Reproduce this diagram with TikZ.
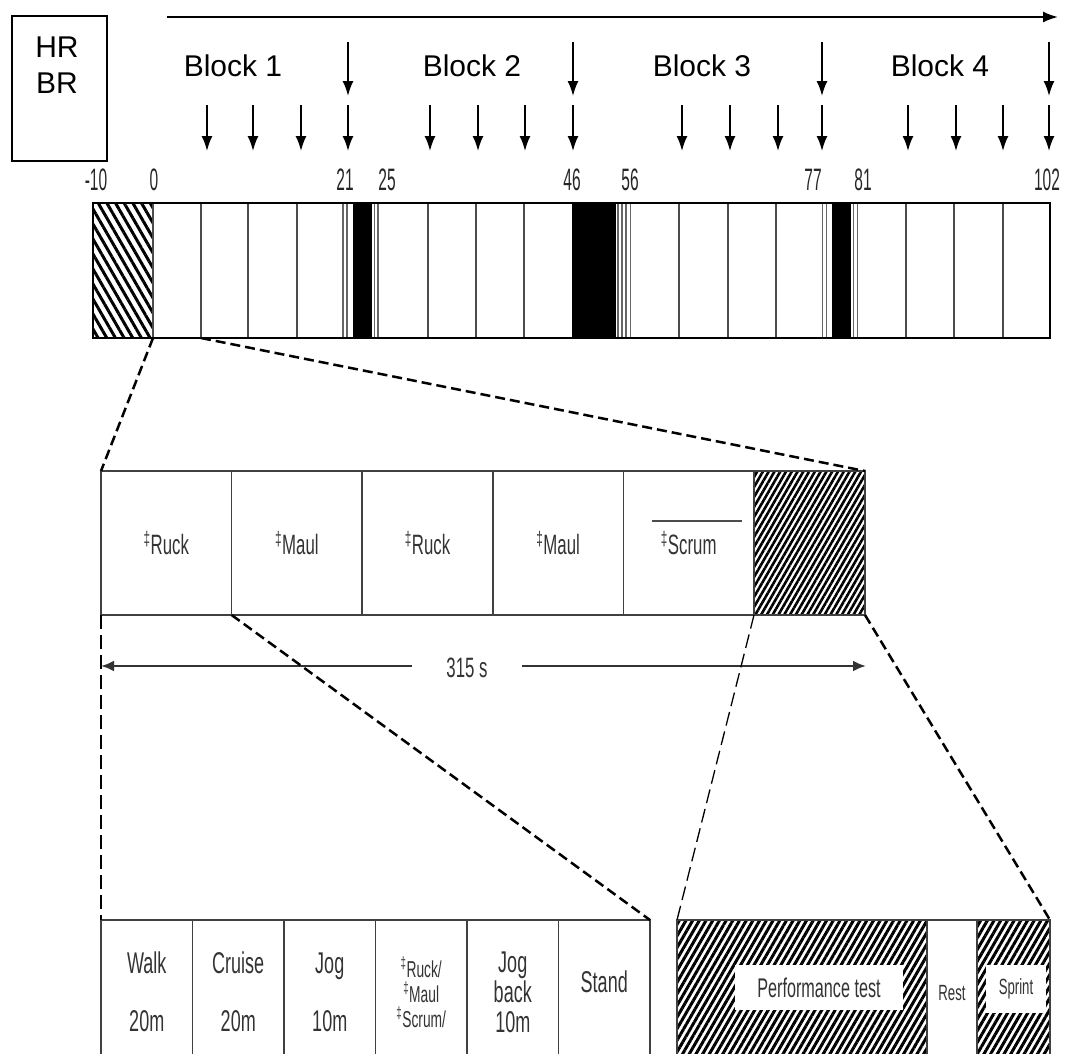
\documentclass[tikz,border=0pt]{standalone}
\usepackage{fontspec}
\setmainfont{Liberation Sans}
\newfontfamily\narrowfont[FakeStretch=0.6]{Liberation Sans}
\newfontfamily\numfont[FakeStretch=0.5]{Liberation Sans}
\usetikzlibrary{arrows.meta,patterns.meta,positioning}
\newcommand{\dg}{\textsuperscript{‡}}

\tikzset{
  blk/.style={font=\fontsize{30}{36}\selectfont},
  num/.style={font=\numfont\fontsize{31}{36}\selectfont,text=black!85},
  cell/.style={draw=black!75,line width=1.5pt,minimum height=144pt,inner sep=0pt,outer sep=0pt,
    anchor=north west,align=center,text=black!80,font=\narrowfont\fontsize{28}{34}\selectfont},
  lowcell/.style={cell,minimum width=91.5pt,font=\narrowfont\fontsize{30}{36}\selectfont},
  hatchbar/.style={pattern={Lines[angle=-60,distance=7.5pt,line width=3pt]}},
  hatchmid/.style={pattern={Lines[angle=60,distance=5pt,line width=2.6pt]}},
  hatchlow/.style={pattern={Lines[angle=60,distance=5.8pt,line width=3pt]}},
  marker/.style={line width=1.8pt,-{Latex[length=15pt,width=11pt]}},
  divider/.style={draw=black!70,line width=1.6pt},
  thinline/.style={draw=black!60,line width=1.2pt},
  zoomline/.style={line width=2.5pt,dash pattern=on 10pt off 5pt},
  thinzoom/.style={line width=1.3pt,dash pattern=on 14pt off 6pt},
  durarrow/.style={line width=2.5pt,draw=black!80,-{Latex[length=13pt,width=11pt]}}
}

\begin{document}
\begin{tikzpicture}[x=1pt,y=-1pt]
\clip (0,0) rectangle (1067,1053);

% measures box
\node[draw,line width=2pt,minimum width=95pt,minimum height=145pt,inner sep=0pt,outer sep=0pt,anchor=north west] (hrbox) at (12,16) {};
\node[blk,align=center] (hr) at (57,65) {HR\\BR};

% time axis and blocks
\coordinate (axl) at (167,17);
\coordinate (axr) at (1058,17);
\draw[marker] (axl) -- (axr);
\foreach \x/\t [count=\i] in {233/Block 1,472/Block 2,702/Block 3,940/Block 4}
  \node[blk] (block\i) at (\x,66) {\t};

% sampling arrows
\foreach \x [count=\i] in {348,573,822,1049}{
  \coordinate (long\i) at (\x,42);
  \draw[marker] (long\i) -- ++(0,54);
}
\foreach \x [count=\i] in {207,253,301,348,430,478,525,573,682,730,778,822,908,956,1003,1049}{
  \coordinate (short\i) at (\x,105);
  \draw[marker] (short\i) -- ++(0,46);
}

% minutes
\foreach \x/\t [count=\i] in {96/-10,154/0,345/21,387/25,572/46,630/56,813/77,863/81,1047/102}
  \node[num] (min\i) at (\x,180) {\t};

% timeline bar
\fill[hatchbar] (93,203) rectangle (153,338);
\foreach \a/\b in {352.5/371.5,571.5/615.5,831.5/850.5}
  \fill (\a,203) rectangle (\b,338);
\foreach \x in {343,347,374.5,378,618,622,626,630.5,822.5,826.5,853.5,857.5}
  \draw[thinline] (\x,203) -- (\x,338);
\foreach \x in {153,201,248,297,428,476,524,679,728,776,906,954,1003}
  \draw[divider] (\x,203) -- (\x,338);
\draw[line width=2pt] (93,203) rectangle (1050,338);
\coordinate (stage0) at (153,338);
\coordinate (stage1) at (201,338);

% one stage
\foreach \t [count=\i] in {\dg Ruck,\dg Maul,\dg Ruck,\dg Maul,\dg Scrum}
  \node[cell,minimum width=130.6pt] (m\i) at (101+130.6*\i-130.6,471) {\t};
\node[cell,hatchmid,minimum width=111pt] (m6) at (754,471) {};
\draw[line width=1.5pt,black!70] (652,521) -- (742,521);

\draw[zoomline] (stage0) -- (m1.north west);
\draw[zoomline] (stage1) -- (m6.north east);

% duration
\node[font=\narrowfont\fontsize{28}{34}\selectfont,text=black!80,minimum width=110pt,inner sep=0pt] (dur) at (467,668) {315 s};
\coordinate (durl) at (101,666);
\coordinate (durr) at (866,666);
\draw[durarrow] (dur.west |- durl) -- (durl);
\draw[durarrow] (dur.east |- durr) -- (durr);

% activities
\node[lowcell] (c1) at (101,920) {Walk\\[22pt]20m};
\node[lowcell,right=0pt of c1] (c2) {Cruise\\[22pt]20m};
\node[lowcell,right=0pt of c2] (c3) {Jog\\[22pt]10m};
\node[lowcell,right=0pt of c3,font=\narrowfont\fontsize{23}{25}\selectfont] (c4) {\dg Ruck/\\\dg Maul\\\dg Scrum/};
\node[lowcell,right=0pt of c4,font=\narrowfont\fontsize{30}{30}\selectfont] (c5) {Jog\\back\\10m};
\node[lowcell,right=0pt of c5] (c6) {\raisebox{20pt}{Stand}};

% test
\node[cell,hatchlow,minimum width=250pt] (r1) at (677,920) {};
\node[cell,minimum width=50pt] (r2) at (927,920) {};
\node[cell,hatchlow,minimum width=73pt] (r3) at (977,920) {};
\node[fill=white,minimum width=168pt,minimum height=45pt,inner sep=0pt,text=black!80,
  font=\narrowfont\fontsize{27}{32}\selectfont] (perf) at (819,987.5) {Performance test};
\node[text=black!80,font=\narrowfont\fontsize{22}{26}\selectfont] (rest) at (952,993) {Rest};
\node[fill=white,minimum width=60pt,minimum height=48pt,inner sep=0pt,text=black!80,
  font=\narrowfont\fontsize{22}{26}\selectfont] (sprint) at (1016,989) {Sprint};

\draw[thinzoom] (m1.south west) -- (c1.north west);
\draw[zoomline] (m2.south west) -- (c6.north east);
\draw[thinzoom] (m6.south west) -- (r1.north west);
\draw[zoomline] (m6.south east) -- (r3.north east);
\end{tikzpicture}
\end{document}
